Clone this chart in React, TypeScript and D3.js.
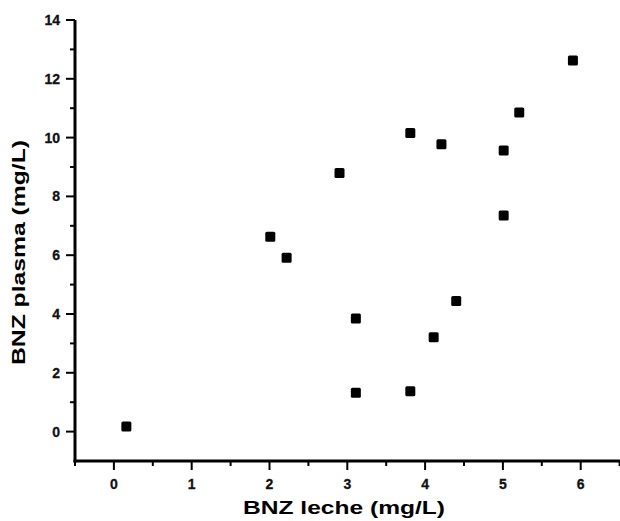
import React, { useEffect, useRef } from 'react';
import * as d3 from 'd3';

// datos
const bnzLeche = [0.16, 2.01, 2.22, 2.9, 3.11, 3.11, 3.81, 3.81, 4.11, 4.21, 4.4, 5.01, 5.01, 5.21, 5.9];
const bnzPlasma = [0.17, 6.63, 5.91, 8.8, 3.85, 1.32, 10.16, 1.37, 3.21, 9.77, 4.44, 9.56, 7.35, 10.85, 12.62];
const xTicks = [0, 1, 2, 3, 4, 5, 6];
const yTicks = [0, 2, 4, 6, 8, 10, 12, 14];
const xTitle = 'BNZ leche (mg/L)';
const yTitle = 'BNZ plasma (mg/L)';

const W = 620;
const H = 521;

export default function App() {
  const ref = useRef<SVGSVGElement>(null);

  useEffect(() => {
    const svg = d3.select(ref.current);
    svg.selectAll('*').remove();

    const left = 75, right = 620, top = 20, bottom = 461;
    const x = d3.scaleLinear().domain([-0.5, 6.5]).range([left, left + 7 * 77.8]);
    const y = d3.scaleLinear().domain([-1, 14]).range([bottom, top]);
    const font = '"Liberation Sans", Arial, sans-serif';

    // eje x
    const gx = svg.append('g').attr('transform', `translate(0,${bottom})`);
    gx.append('line').attr('x1', left - 1.5).attr('x2', right).attr('y1', 0).attr('y2', 0)
      .attr('stroke', '#000').attr('stroke-width', 3);
    gx.selectAll('line.minor')
      .data(d3.range(-0.5, 6.6, 0.5).filter(v => Math.abs(v % 1) > 0.1))
      .enter().append('line')
      .attr('class', 'minor')
      .attr('x1', d => x(d)).attr('x2', d => x(d))
      .attr('y1', 0).attr('y2', 5)
      .attr('stroke', '#000').attr('stroke-width', 2);
    gx.selectAll('line.major')
      .data(xTicks).enter().append('line')
      .attr('class', 'major')
      .attr('x1', d => x(d)).attr('x2', d => x(d))
      .attr('y1', 0).attr('y2', 9)
      .attr('stroke', '#000').attr('stroke-width', 2);
    gx.selectAll('text')
      .data(xTicks).enter().append('text')
      .attr('x', d => x(d)).attr('y', 27.5)
      .attr('text-anchor', 'middle')
      .attr('font-family', font).attr('font-weight', 'bold').attr('font-size', 14)
      .attr('fill', '#111').attr('stroke', '#111').attr('stroke-width', 0.3)
      .text(d => d);

    // eje y
    const gy = svg.append('g').attr('transform', `translate(${left},0)`);
    gy.append('line').attr('x1', 0).attr('x2', 0).attr('y1', top).attr('y2', bottom + 1.5)
      .attr('stroke', '#000').attr('stroke-width', 3);
    gy.selectAll('line.minor')
      .data(d3.range(1, 14, 2)).enter().append('line')
      .attr('class', 'minor')
      .attr('y1', d => y(d)).attr('y2', d => y(d))
      .attr('x1', 0).attr('x2', -5)
      .attr('stroke', '#000').attr('stroke-width', 2);
    gy.selectAll('line.major')
      .data(yTicks).enter().append('line')
      .attr('class', 'major')
      .attr('y1', d => y(d)).attr('y2', d => y(d))
      .attr('x1', 0).attr('x2', -9)
      .attr('stroke', '#000').attr('stroke-width', 2);
    gy.selectAll('text')
      .data(yTicks).enter().append('text')
      .attr('x', -15).attr('y', d => y(d))
      .attr('dy', '0.36em')
      .attr('text-anchor', 'end')
      .attr('font-family', font).attr('font-weight', 'bold').attr('font-size', 14)
      .attr('fill', '#111').attr('stroke', '#111').attr('stroke-width', 0.3)
      .text(d => d);

    // títulos (texto ensanchado como en la imagen)
    svg.append('text')
      .attr('x', 243).attr('y', 514)
      .attr('textLength', 202).attr('lengthAdjust', 'spacingAndGlyphs')
      .attr('font-family', font).attr('font-weight', 'bold').attr('font-size', 18)
      .attr('fill', '#000')
      .text(xTitle);
    svg.append('text')
      .attr('transform', `translate(25,365) rotate(-90)`)
      .attr('textLength', 225).attr('lengthAdjust', 'spacingAndGlyphs')
      .attr('font-family', font).attr('font-weight', 'bold').attr('font-size', 18)
      .attr('fill', '#000')
      .text(yTitle);

    // puntos
    const s = 10;
    svg.append('g').selectAll('rect')
      .data(d3.zip(bnzLeche, bnzPlasma)).enter().append('rect')
      .attr('x', d => x(d[0]) - s / 2)
      .attr('y', d => y(d[1]) - s / 2)
      .attr('width', s).attr('height', s)
      .attr('rx', 1.5)
      .attr('fill', '#000');
  }, []);

  return (
    <svg ref={ref} width={W} height={H} style={{ position: 'absolute', left: 0, top: 0, background: '#fff' }} />
  );
}
